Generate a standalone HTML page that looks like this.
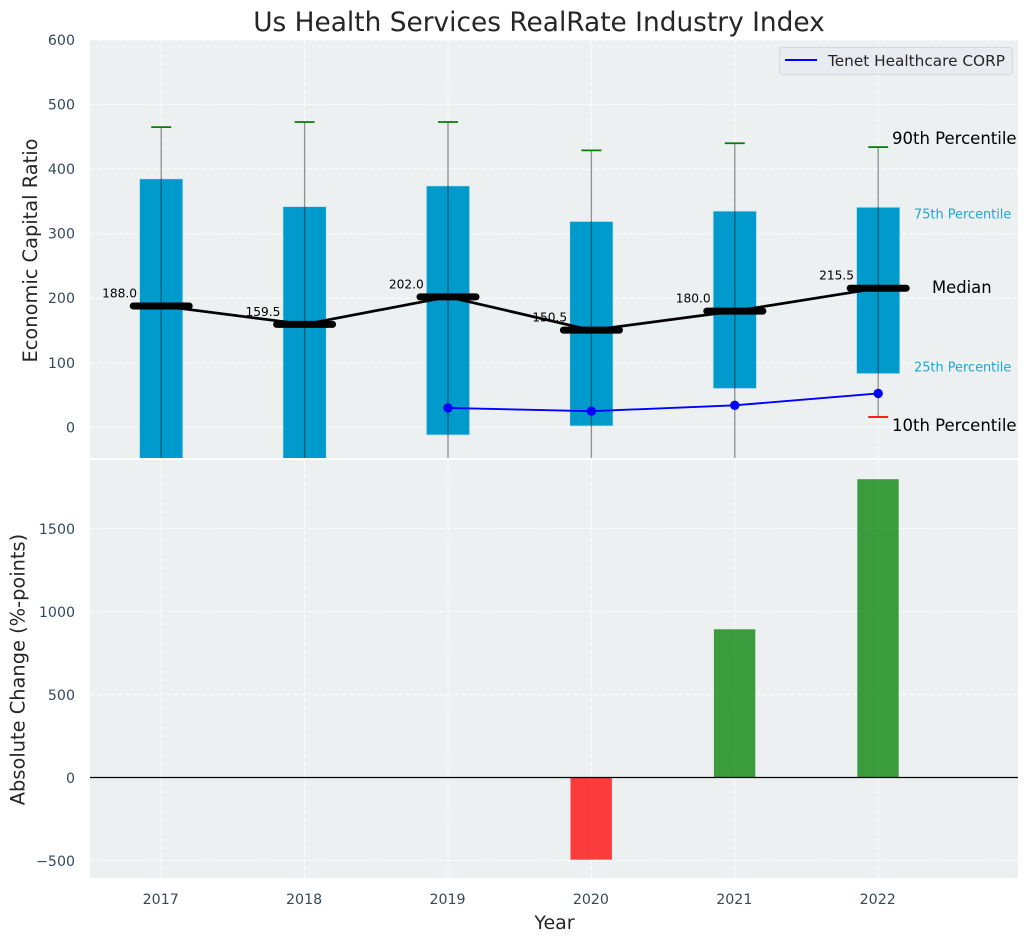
<!DOCTYPE html>
<html lang="en">
<head>
<meta charset="utf-8">
<title>Us Health Services RealRate Industry Index</title>
<style>
html,body{margin:0;padding:0;background:#fff;width:1029px;height:942px;overflow:hidden}
svg{display:block;font-family:"DejaVu Sans","Liberation Sans",sans-serif}
</style>
</head>
<body>
<svg id="chart" xmlns="http://www.w3.org/2000/svg" width="1029" height="942" viewBox="0 0 1029 942"></svg>
<script>
const years = [2017, 2018, 2019, 2020, 2021, 2022];
const p90 = [465, 473, 473, 429, 440, 434];
const p75 = [385, 342, 374, 319, 335, 341];
const medians = [188.0, 159.5, 202.0, 150.5, 180.0, 215.5];
const p25 = [-120, -120, -12, 2, 60, 83];
const p10 = [-220, -220, -150, -120, -70, 16];
const companyValues = [null, null, 30, 25, 34, 52.5];
const changeValues = [null, null, null, -495, 893, 1797];
const upperTicks = [0, 100, 200, 300, 400, 500, 600];
const lowerTicks = [-500, 0, 500, 1000, 1500];
const lowerTickLabels = ['\u2212500', '0', '500', '1000', '1500'];
const legendLabel = 'Tenet Healthcare CORP';

const NS = 'http://www.w3.org/2000/svg';
const svg = document.getElementById('chart');
const L = 90, R = 1018, T1 = 40, B1 = 458, T2 = 460, B2 = 878;
const xPos = i => 161.2 + 143.4 * i;
const yTop = v => 427.3 - v * 0.6455;
const yBot = v => 777.5 - v * 0.166;
const TICK = '#34495e', INK = '#262626';

function make(tag, attrs, parent, text) {
  const el = document.createElementNS(NS, tag);
  for (const k in attrs) el.setAttribute(k, attrs[k]);
  if (text !== undefined) el.textContent = text;
  (parent || svg).appendChild(el);
  return el;
}

const defs = make('defs', {});
const clip = make('clipPath', {id: 'clip-top'}, defs);
make('rect', {x: L, y: T1, width: R - L, height: B1 - T1}, clip);

const panelTop = make('rect', {x: L, y: T1, width: R - L, height: B1 - T1, fill: '#ecf0f1'});


const panelBot = make('rect', {x: L, y: T2, width: R - L, height: B2 - T2, fill: '#ecf0f1'});



const gridStyle = {stroke: '#fff', 'stroke-width': 1, 'stroke-dasharray': '5 2', opacity: 0.9};

upperTicks.forEach(v => {
  const y = yTop(v);
  const g = make('line', Object.assign({x1: L, x2: R, y1: y, y2: y}, gridStyle));
  
  
  const t = make('text', {x: 75, y: y + 5, 'text-anchor': 'end', 'font-size': 14.2, fill: TICK}, svg, String(v));
  
  
});

lowerTicks.forEach((v, i) => {
  const y = yBot(v);
  const g = make('line', Object.assign({x1: L, x2: R, y1: y, y2: y}, gridStyle));
  
  
  const t = make('text', {x: 75, y: y + 5.5, 'text-anchor': 'end', 'font-size': 14.2, fill: TICK}, svg, lowerTickLabels[i]);
  
  
});

years.forEach((yr, i) => {
  const x = xPos(i);
  const g1 = make('line', Object.assign({x1: x, x2: x, y1: T1, y2: B1}, gridStyle));
  
  
  const g2 = make('line', Object.assign({x1: x, x2: x, y1: T2, y2: B2}, gridStyle));
  
  
  const t = make('text', {x: x - 0.5, y: 904, 'text-anchor': 'middle', 'font-size': 14.2, fill: TICK}, svg, String(yr));
  
  
});

const upper = make('g', {'clip-path': 'url(#clip-top)'});



years.forEach((yr, i) => {
  const x = xPos(i);
  const top = yTop(p75[i]), bottom = yTop(p25[i]);
  const box = make('rect', {x: x - 21.7, y: top, width: 43.4, height: bottom - top, fill: '#009bcc', stroke: '#cfe6ee', 'stroke-width': 0.8}, upper);
  
  
  const w = make('line', {x1: x, x2: x, y1: yTop(p10[i]), y2: yTop(p90[i]), stroke: '#000', 'stroke-opacity': 0.42, 'stroke-width': 1.3}, upper);
  
  
  const cu = make('line', {x1: x - 10, x2: x + 10, y1: yTop(p90[i]), y2: yTop(p90[i]), stroke: '#008000', 'stroke-width': 1.8}, upper);
  
  
  const cl = make('line', {x1: x - 10, x2: x + 10, y1: yTop(p10[i]), y2: yTop(p10[i]), stroke: '#ff0000', 'stroke-width': 1.8}, upper);
  
  
  const lab = make('text', {x: x - 24.2, y: yTop(medians[i]) - 8.5, 'text-anchor': 'end', 'font-size': 12.2, fill: '#000'}, upper, medians[i].toFixed(1));
  
  
});

const medianPts = medians.map((v, i) => xPos(i) + ',' + yTop(v)).join(' ');
const medianLine = make('polyline', {points: medianPts, fill: 'none', stroke: '#000', 'stroke-width': 2.7, 'stroke-linejoin': 'round'}, upper);



medians.forEach((v, i) => {
  const x = xPos(i), y = yTop(v);
  const s = make('line', {x1: x - 28, x2: x + 28, y1: y, y2: y, stroke: '#000', 'stroke-width': 7, 'stroke-linecap': 'round'}, upper);
  
  
});

const companyPts = companyValues.map((v, i) => v === null ? null : xPos(i) + ',' + yTop(v)).filter(Boolean).join(' ');
const companyLine = make('polyline', {points: companyPts, fill: 'none', stroke: '#0000ff', 'stroke-width': 1.9}, upper);


companyValues.forEach((v, i) => {
  if (v === null) return;
  const c = make('circle', {cx: xPos(i), cy: yTop(v), r: 4.7, fill: '#0000ff'}, upper);
  
  
});

changeValues.forEach((v, i) => {
  if (v === null) return;
  const x = xPos(i) - 0.2;
  const y0 = yBot(0), y1 = yBot(v);
  const b = make('rect', {x: x - 20.7, y: Math.min(y0, y1), width: 41.4, height: Math.abs(y1 - y0), fill: v >= 0 ? '#008000' : '#ff0000', 'fill-opacity': 0.75});
  
  
});

const zero = make('line', {x1: L, x2: R, y1: yBot(0), y2: yBot(0), stroke: '#000', 'stroke-width': 1.2});



const a90 = make('text', {x: 892, y: 144, 'font-size': 16.5, fill: '#000'}, svg, '90th Percentile');


const a75 = make('text', {x: 914, y: 218.5, 'font-size': 12.9, fill: '#1fa6d4'}, svg, '75th Percentile');


const aMed = make('text', {x: 932, y: 293, 'font-size': 16.4, fill: '#000'}, svg, 'Median');


const a25 = make('text', {x: 914, y: 371.5, 'font-size': 12.9, fill: '#1fa6d4'}, svg, '25th Percentile');


const a10 = make('text', {x: 892, y: 431, 'font-size': 16.5, fill: '#000'}, svg, '10th Percentile');



const legend = make('g', {});


make('rect', {x: 779.5, y: 47.5, width: 233, height: 27, rx: 3.5, fill: '#e8ebf0', stroke: '#d6d8dc', 'stroke-width': 1}, legend);
const legendSwatch = make('line', {x1: 785, x2: 817, y1: 60, y2: 60, stroke: '#0000ff', 'stroke-width': 2}, legend);


const legendText = make('text', {x: 828, y: 66, 'font-size': 15.3, fill: INK}, legend, legendLabel);



const title = make('text', {x: 539, y: 31, 'text-anchor': 'middle', 'font-size': 26.4, fill: INK}, svg, 'Us Health Services RealRate Industry Index');


const yl1 = make('text', {transform: 'translate(37,250.5) rotate(-90)', 'text-anchor': 'middle', 'font-size': 19.4, fill: INK}, svg, 'Economic Capital Ratio');


const yl2 = make('text', {transform: 'translate(24.5,669.5) rotate(-90)', 'text-anchor': 'middle', 'font-size': 19.4, fill: INK}, svg, 'Absolute Change (%-points)');


const xl = make('text', {x: 554.5, y: 929, 'text-anchor': 'middle', 'font-size': 19, fill: INK}, svg, 'Year');


</script>
</body>
</html>
